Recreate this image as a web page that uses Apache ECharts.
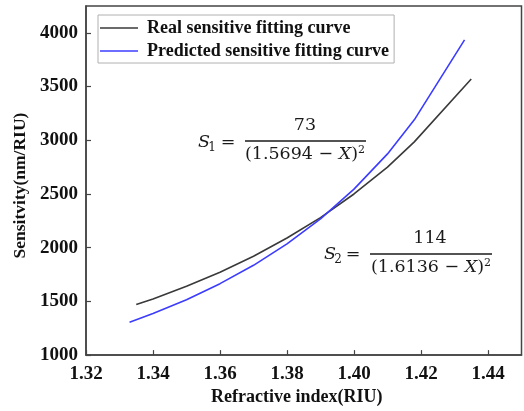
<!DOCTYPE html>
<html>
<head>
<meta charset="utf-8">
<script src="https://cdn.jsdelivr.net/npm/echarts@6/dist/echarts.min.js"></script>
<style>
  html, body { margin: 0; padding: 0; background: #fff; }
  #chart { width: 524px; height: 411px; }
</style>
</head>
<body>
<div id="chart"></div>
<script>
// data
const realX = [1.335, 1.34, 1.35, 1.36, 1.37, 1.38, 1.39, 1.40, 1.41, 1.418, 1.435];
const realY = [1470, 1522, 1640, 1772, 1920, 2090, 2280, 2500, 2750, 2985, 3570];
const predX = [1.333, 1.34, 1.35, 1.36, 1.37, 1.38, 1.39, 1.40, 1.41, 1.418, 1.433];
const predY = [1306, 1388, 1516, 1665, 1836, 2035, 2268, 2545, 2873, 3190, 3935];
const seriesNames = ['Real sensitive fitting curve', 'Predicted sensitive fitting curve'];

const serif = 'Liberation Serif';
const mathFont = 'DejaVu Serif';
const lineIcon = 'path://M0,0H40V1.6H0Z';

function pairs(xs, ys) {
  return xs.map((x, i) => [x, ys[i]]);
}

const chart = echarts.init(document.getElementById('chart'));

const axisCommon = {
  axisLine: { show: true, lineStyle: { color: '#444', width: 1.5 } },
  axisTick: { show: true, inside: true, length: 5, lineStyle: { color: '#444', width: 1.2 } },
  splitLine: { show: false },
};

// formula annotations
function mathText(x, y, text, opts = {}) {
  return {
    type: 'text',
    x: x,
    y: y,
    style: Object.assign({
      text: text,
      fontFamily: mathFont,
      fontSize: 17.5,
      fill: '#1a1a1a',
      align: 'center',
      verticalAlign: 'middle',
    }, opts),
  };
}

function bar(x1, x2, y) {
  return {
    type: 'line',
    shape: { x1: x1, y1: y, x2: x2, y2: y },
    style: { stroke: '#1a1a1a', lineWidth: 1.6 },
  };
}

// denominators: number part upright, X italic, closing paren + square
function denominator(cx, y, num) {
  return {
    type: 'text',
    x: cx,
    y: y,
    style: {
      text: '{n|(' + num + ' \u2212 }{i|X}{n|)}{s|2}',
      align: 'center',
      verticalAlign: 'middle',
      rich: {
        n: { fontFamily: mathFont, fontSize: 17.5, fill: '#1a1a1a' },
        i: { fontFamily: mathFont, fontSize: 17.5, fontStyle: 'italic', fill: '#1a1a1a' },
        s: { fontFamily: mathFont, fontSize: 11, fill: '#1a1a1a', verticalAlign: 'top', padding: [0, 0, 8, 0] },
      },
    },
  };
}

const options = {
  animation: false,
  backgroundColor: '#fff',
  grid: {
    left: 86,
    right: 2.5,
    top: 6,
    bottom: 52,
    show: true,
    borderColor: '#444',
    borderWidth: 1.5,
  },
  legend: {
    left: 98,
    top: 15,
    orient: 'vertical',
    itemWidth: 38,
    itemHeight: 14,
    itemGap: 5,
    padding: [4, 5, 3, 2],
    borderColor: '#b0b0b0',
    borderWidth: 1,
    backgroundColor: '#fff',
    data: seriesNames.map(name => ({ name: name, icon: lineIcon })),
    textStyle: {
      fontFamily: serif,
      fontWeight: 'bold',
      fontSize: 18,
      color: '#111',
      padding: [0, 0, 0, 4],
    },
  },
  xAxis: Object.assign({}, axisCommon, {
    type: 'value',
    min: 1.32,
    max: 1.45,
    interval: 0.02,
    name: 'Refractive index(RIU)',
    nameLocation: 'middle',
    nameGap: 31,
    nameTextStyle: {
      fontFamily: serif, fontWeight: 'bold', fontSize: 18, color: '#111',
      padding: [0, 14, 0, 0],
    },
    axisLabel: {
      showMaxLabel: false,
      margin: 9,
      fontFamily: serif,
      fontWeight: 'bold',
      fontSize: 19,
      color: '#111',
      formatter: v => v.toFixed(2),
    },
  }),
  yAxis: Object.assign({}, axisCommon, {
    type: 'value',
    min: 1000,
    max: 4250,
    interval: 500,
    name: 'Sensitvity(nm/RIU)',
    nameLocation: 'middle',
    nameGap: 55,
    nameTextStyle: {
      fontFamily: serif, fontWeight: 'bold', fontSize: 17.5, color: '#111',
      padding: [0, 10, 0, 0],
    },
    axisLabel: {
      showMaxLabel: false,
      margin: 8,
      fontFamily: serif,
      fontWeight: 'bold',
      fontSize: 19,
      color: '#111',
      formatter: v => String(v),
    },
  }),
  series: [
    {
      name: seriesNames[0],
      type: 'line',
      symbol: 'none',
      data: pairs(realX, realY),
      lineStyle: { color: '#3a3a3a', width: 1.6 },
      itemStyle: { color: '#3a3a3a' },
    },
    {
      name: seriesNames[1],
      type: 'line',
      symbol: 'none',
      data: pairs(predX, predY),
      lineStyle: { color: '#3c3cff', width: 1.6 },
      itemStyle: { color: '#3c3cff' },
    },
  ],
  graphic: [
    // S1 = 73 / (1.5694 - X)^2
    mathText(204, 142, 'S', { fontStyle: 'italic' }),
    mathText(212, 148, '1', { fontSize: 12 }),
    mathText(228, 142, '='),
    bar(245, 366, 141),
    mathText(305, 125, '73'),
    denominator(305, 154, '1.5694'),
    // S2 = 114 / (1.6136 - X)^2
    mathText(330, 254, 'S', { fontStyle: 'italic' }),
    mathText(338, 260, '2', { fontSize: 12 }),
    mathText(353, 254, '='),
    bar(370, 492, 254),
    mathText(430, 238, '114'),
    denominator(431, 267, '1.6136'),
  ],
};

chart.setOption(options);

window.addEventListener('resize', () => {
  chart.resize();
});
</script>
</body>
</html>
